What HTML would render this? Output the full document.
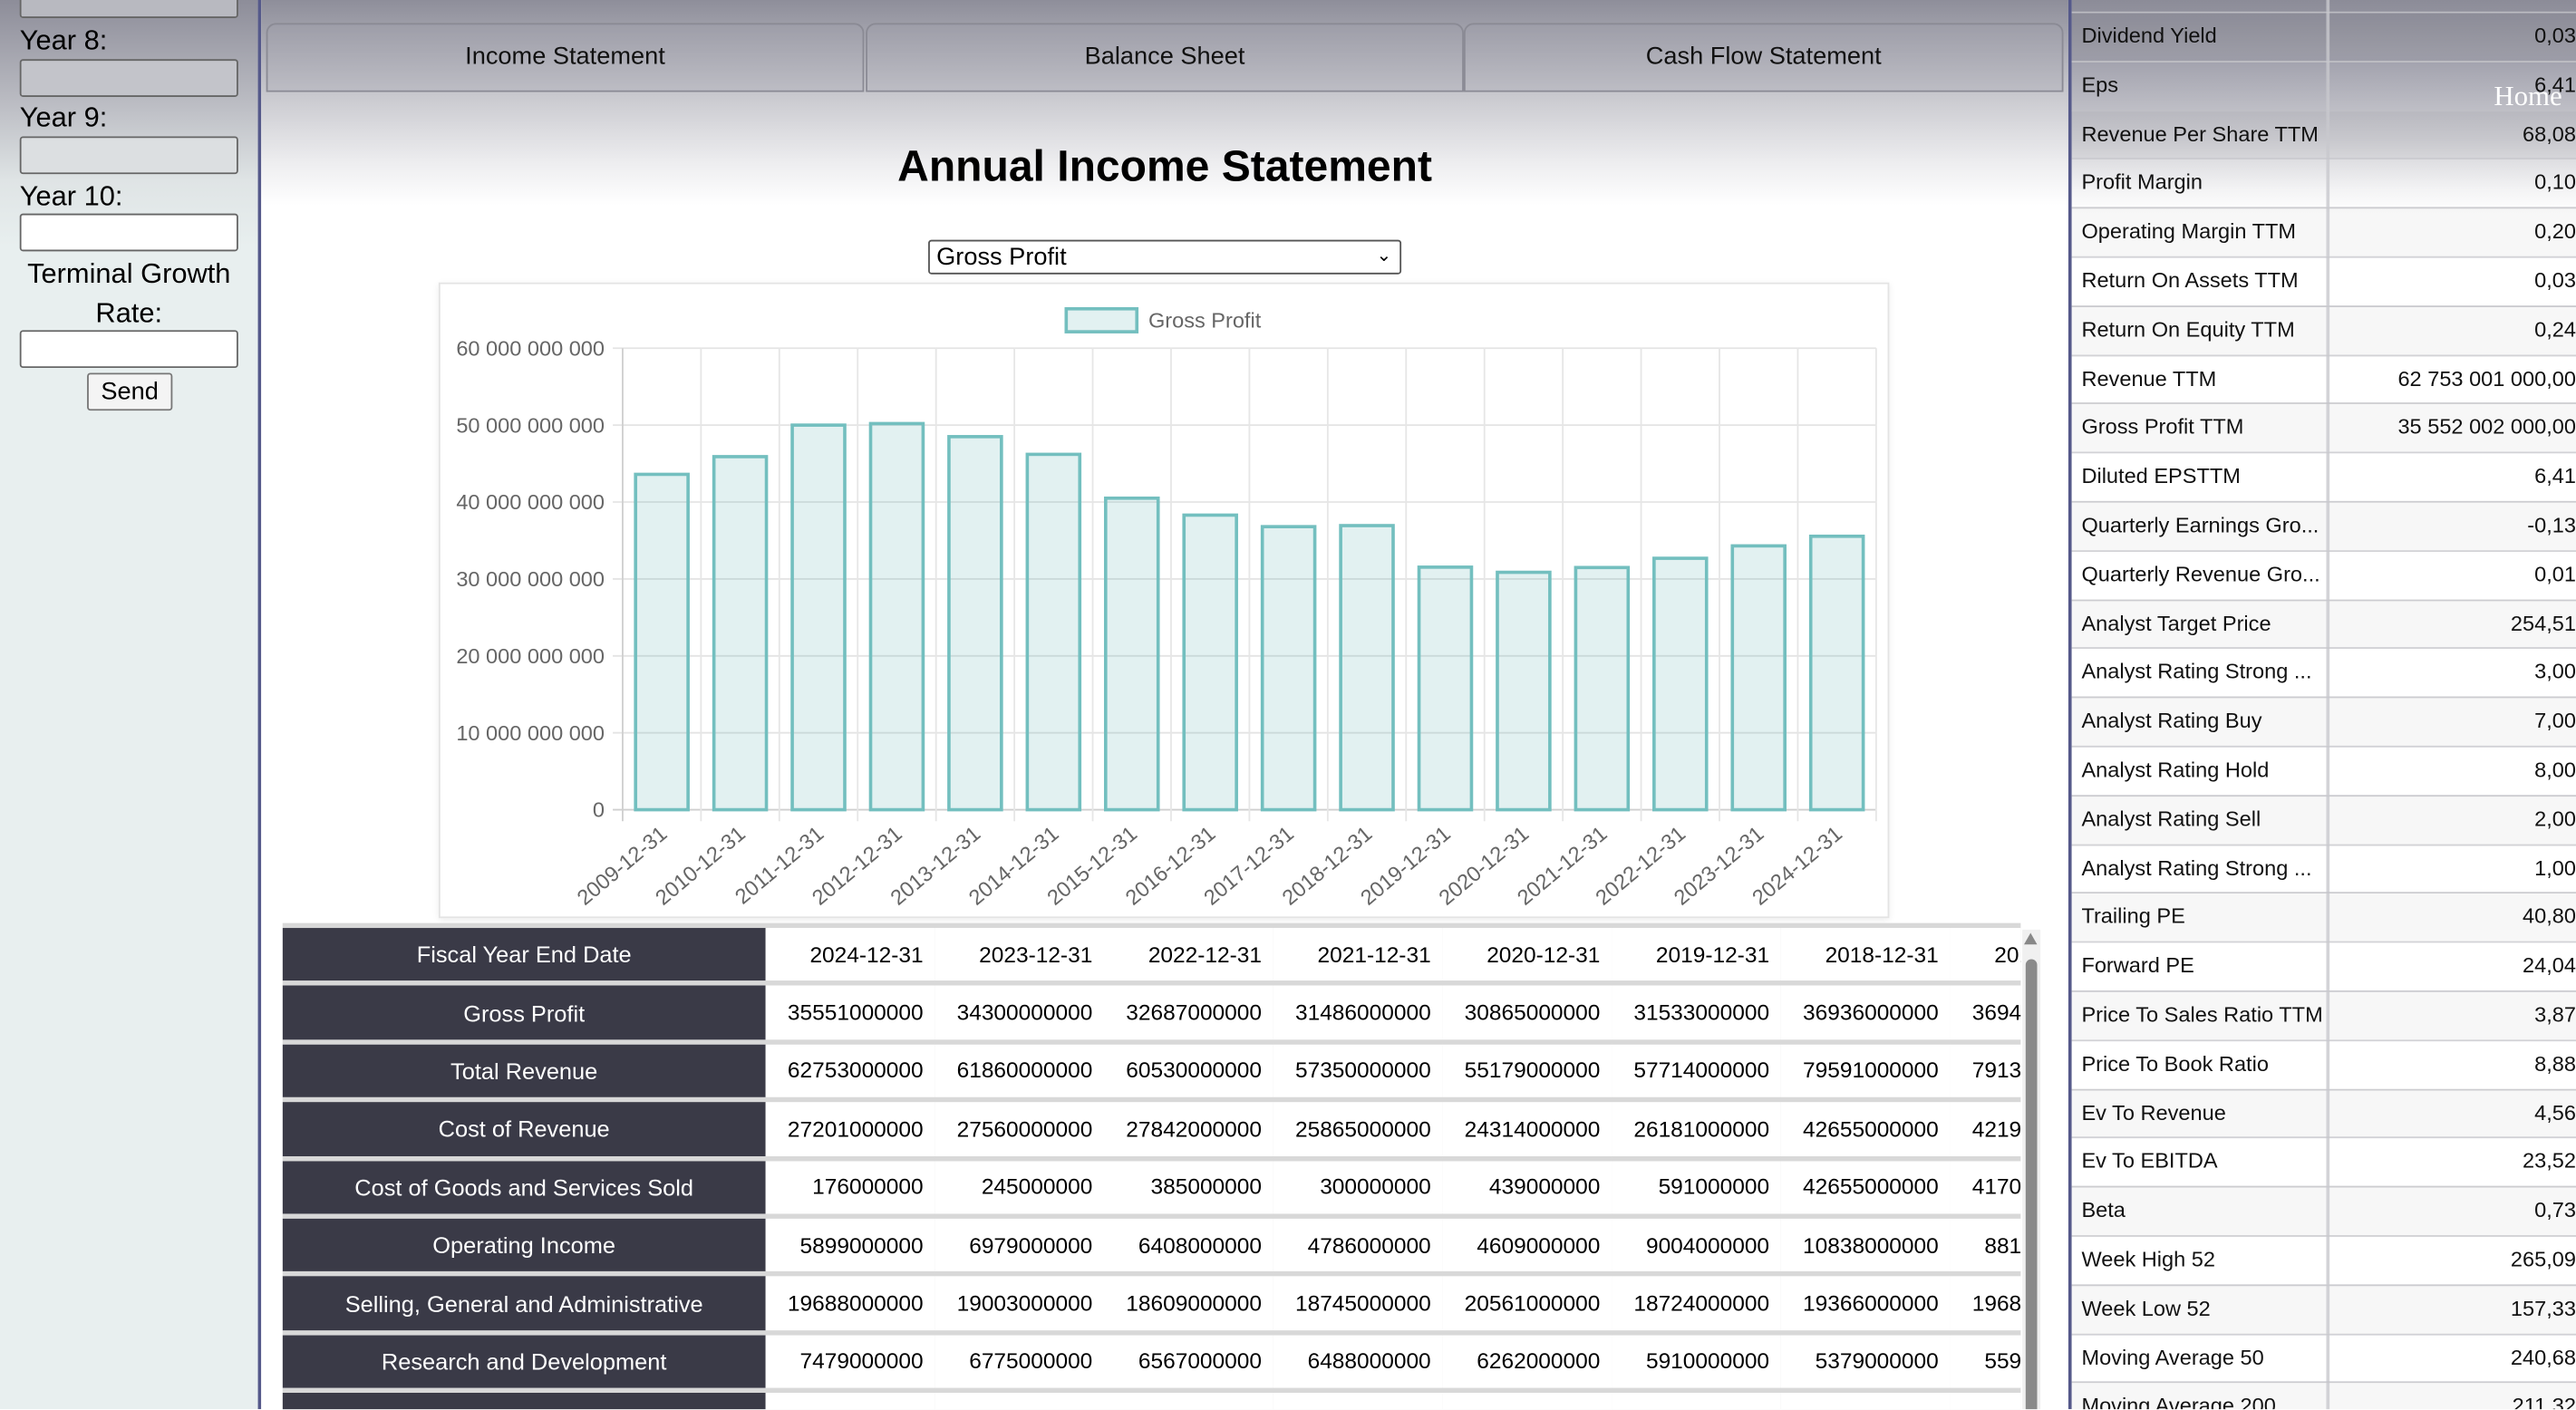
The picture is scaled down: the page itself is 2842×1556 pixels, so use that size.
<!DOCTYPE html>
<html><head><meta charset="utf-8"><style>
html,body{margin:0;padding:0;width:2842px;height:1556px;overflow:hidden;background:#fff;font-family:"Liberation Sans",sans-serif;}
#root{position:absolute;left:0;top:0;width:1568px;height:858px;transform:scale(1.8125);transform-origin:0 0;overflow:hidden;background:#fff;}
.abs{position:absolute;}
.lbl{position:absolute;left:12px;font-size:17px;color:#000;}
.inp{position:absolute;left:12px;width:131px;height:21px;border:1px solid #666;border-radius:2px;background:#fff;}
.tab{position:absolute;top:14px;height:40px;border:1px solid #8a8a94;border-radius:6px 6px 0 0;font-size:15px;line-height:40px;text-align:center;color:#111;background:rgba(160,160,170,0.25);}
.rrow{position:absolute;left:0;width:309px;height:29.8px;border-bottom:1px solid rgba(200,200,205,0.8);font-size:13px;color:#111;}
.rrow span{position:absolute;top:7px;}
table.fin{border-collapse:separate;border-spacing:0 3px;}
</style></head><body>
<div id="root">
<div id="side" class="abs" style="left:0;top:0;width:157px;height:858px;background:linear-gradient(180deg,#8d8d99 0px,#b9bac1 60px,#dfe4e5 110px,#e8efef 150px,#e8efef 858px);border-right:2px solid #55598a;">
  <div class="inp" style="top:-12px;background:#b8b9c0"></div>
  <div class="lbl" style="top:15px">Year 8:</div>
  <div class="inp" style="top:36px;background:#c3c4ca"></div>
  <div class="lbl" style="top:62px">Year 9:</div>
  <div class="inp" style="top:83px;background:#dcdfe1"></div>
  <div class="lbl" style="top:110px">Year 10:</div>
  <div class="inp" style="top:130px"></div>
  <div class="lbl" style="top:155px;left:0;width:157px;text-align:center;line-height:24px">Terminal Growth<br>Rate:</div>
  <div class="inp" style="top:201px"></div>
  <div class="abs" style="left:53px;top:227px;width:50px;height:21px;border:1px solid #777;border-radius:2px;background:#f4f4f4;font-size:15px;text-align:center;line-height:21px">Send</div>
</div>
<div id="main" class="abs" style="left:159px;top:0;width:1100px;height:858px;background:linear-gradient(180deg,#8e8e9a 0px,#c6c6cc 55px,#eeeef0 100px,#fff 125px,#fff 858px);">
  <div class="tab" style="left:3px;width:362px">Income Statement</div>
  <div class="tab" style="left:368px;width:362px">Balance Sheet</div>
  <div class="tab" style="left:732px;width:363px">Cash Flow Statement</div>
  <div class="abs" style="left:0;top:86px;width:1100px;text-align:center;font-size:26.5px;font-weight:bold;color:#000">Annual Income Statement</div>
  <div class="abs" style="left:406px;top:146px;width:282px;height:19px;border:1px solid #555;border-radius:2px;background:#fff;font-size:15px;line-height:19px;padding-left:4px;box-sizing:content-box">Gross Profit<span style="position:absolute;right:5px;top:0;font-size:11px">&#8964;</span></div>
</div>
<div class="abs" style="left:267px;top:172px;width:881px;height:385px;background:#fff;border:1px solid #e4e4e4;box-shadow:0 1px 4px rgba(0,0,0,0.08)"></div>
<svg class="abs" style="left:0;top:0" width="1568" height="858" id="chart"></svg>

<div class="abs" style="left:172px;top:562px;width:1058px;height:300px;overflow:hidden;background:#d8d8d8">
<table class="fin" id="fin" style="font-family:'Liberation Sans',sans-serif;font-size:13.5px;white-space:nowrap"></table>
</div>
<div class="abs" style="left:1231px;top:566px;width:11px;height:292px;background:#f0f0f0"><div style="position:absolute;left:2px;top:18px;width:7px;height:280px;background:#8a8a8a;border-radius:4px"></div><div style="position:absolute;left:1px;top:2px;width:0;height:0;border-left:4.5px solid transparent;border-right:4.5px solid transparent;border-bottom:7px solid #888"></div></div>

<div id="right" class="abs" style="left:1259px;top:0;width:309px;height:858px;border-left:2px solid #55598a;background:linear-gradient(180deg,#8c8c98 0px,#a5a5b0 40px,#cfcfd4 85px,#f3f3f4 115px,#ffffff 130px,#ffffff 858px);"></div>
<div class="abs" style="left:1518px;top:49px;font-family:'Liberation Serif',serif;font-size:17px;color:#fff">Home</div>
</div>
<script>
const categories=["2009-12-31","2010-12-31","2011-12-31","2012-12-31","2013-12-31","2014-12-31","2015-12-31","2016-12-31","2017-12-31","2018-12-31","2019-12-31","2020-12-31","2021-12-31","2022-12-31","2023-12-31","2024-12-31"];
const grossProfit=[43.6e9,45.9e9,50.0e9,50.2e9,48.5e9,46.2e9,40.5e9,38.3e9,36.8e9,36.936e9,31.533e9,30.865e9,31.486e9,32.687e9,34.3e9,35.551e9];
const yTicks=[0,10e9,20e9,30e9,40e9,50e9,60e9];
const yTickLabels=["0","10 000 000 000","20 000 000 000","30 000 000 000","40 000 000 000","50 000 000 000","60 000 000 000"];
const tableHeaders=["2024-12-31","2023-12-31","2022-12-31","2021-12-31","2020-12-31","2019-12-31","2018-12-31","2017-12-31"];
const tableRowNames=["Gross Profit","Total Revenue","Cost of Revenue","Cost of Goods and Services Sold","Operating Income","Selling, General and Administrative","Research and Development",""];
const tableValues=[
["35551000000","34300000000","32687000000","31486000000","30865000000","31533000000","36936000000","36943000000"],
["62753000000","61860000000","60530000000","57350000000","55179000000","57714000000","79591000000","79139000000"],
["27201000000","27560000000","27842000000","25865000000","24314000000","26181000000","42655000000","42196000000"],
["176000000","245000000","385000000","300000000","439000000","591000000","42655000000","41703000000"],
["5899000000","6979000000","6408000000","4786000000","4609000000","9004000000","10838000000","8813000000"],
["19688000000","19003000000","18609000000","18745000000","20561000000","18724000000","19366000000","19680000000"],
["7479000000","6775000000","6567000000","6488000000","6262000000","5910000000","5379000000","5590000000"],
["","","","","","","",""]];
const statNames=["Dividend Yield","Eps","Revenue Per Share TTM","Profit Margin","Operating Margin TTM","Return On Assets TTM","Return On Equity TTM","Revenue TTM","Gross Profit TTM","Diluted EPSTTM","Quarterly Earnings Gro...","Quarterly Revenue Gro...","Analyst Target Price","Analyst Rating Strong ...","Analyst Rating Buy","Analyst Rating Hold","Analyst Rating Sell","Analyst Rating Strong ...","Trailing PE","Forward PE","Price To Sales Ratio TTM","Price To Book Ratio","Ev To Revenue","Ev To EBITDA","Beta","Week High 52","Week Low 52","Moving Average 50","Moving Average 200"];
const statValues=["0,03","6,41","68,08","0,10","0,20","0,03","0,24","62 753 001 000,00","35 552 002 000,00","6,41","-0,13","0,01","254,51","3,00","7,00","8,00","2,00","1,00","40,80","24,04","3,87","8,88","4,56","23,52","0,73","265,09","157,33","240,68","211,32"];

const NS="http://www.w3.org/2000/svg";
const svg=document.getElementById('chart');
const X0=379,X1=1142,Y0=493,Y1=212,YMAX=60e9;
const band=(X1-X0)/categories.length;
const xPos=i=>X0+band*(i+0.5);
const yPos=v=>Y0-(v/YMAX)*(Y0-Y1);
function mk(tag,attrs,parent){const e=document.createElementNS(NS,tag);for(const k in attrs)e.setAttribute(k,attrs[k]);(parent||svg).appendChild(e);return e;}
yTicks.forEach((t,i)=>{
  const g=mk('line',{x1:X0-6,x2:X1,y1:yPos(t),y2:yPos(t),stroke:i===0?'#cfcfcf':'#e4e4e4','stroke-width':1});
  
  
  const tx=mk('text',{x:X0-11,y:yPos(t)+4.5,'text-anchor':'end','font-size':13,fill:'#666','font-family':'Liberation Sans, sans-serif'});
  tx.textContent=yTickLabels[i];
  
  
});
for(let i=0;i<=categories.length;i++){
  const x=X0+band*i;
  const l=mk('line',{x1:x,x2:x,y1:Y1,y2:Y0+7,stroke:i===0?'#cfcfcf':'#e6e6e6','stroke-width':1});
  
  
}
categories.forEach((c,i)=>{
  const bw=band*0.67,x=xPos(i)-bw/2,y=yPos(grossProfit[i]);
  const r=mk('rect',{x:x,y:y,width:bw,height:Y0-y,fill:'rgba(75,170,170,0.16)',stroke:'#73bfbf','stroke-width':2});
  
  
  const t=mk('text',{x:xPos(i)+4,y:Y0+16,'text-anchor':'end','font-size':13,fill:'#666','font-family':'Liberation Sans, sans-serif',transform:'rotate(-40 '+(xPos(i)+4)+' '+(Y0+16)+')'});
  t.textContent=c;
  
  
});
const lg=mk('rect',{x:649,y:188,width:43,height:14,fill:'rgba(75,170,170,0.16)',stroke:'#73bfbf','stroke-width':2});


const lt=mk('text',{x:699,y:199.5,'font-size':13,fill:'#666','font-family':'Liberation Sans, sans-serif'});
lt.textContent='Gross Profit';



const tbl=document.getElementById('fin');
function addRow(name,vals){
  const tr=document.createElement('tr');
  const th=document.createElement('td');
  th.textContent=name;
  
  
  th.style.cssText='width:294px;min-width:294px;height:32.4px;padding:0;background:#3a3a47;color:#fff;text-align:center;font-size:14px';
  tr.appendChild(th);
  vals.forEach(v=>{const td=document.createElement('td');td.textContent=v;
    
    
    td.style.cssText='width:103px;min-width:103px;padding:0 7px 0 0;box-sizing:border-box;background:#fff;text-align:right;height:32.4px;color:#000';tr.appendChild(td);});
  tbl.appendChild(tr);
}
addRow('Fiscal Year End Date',tableHeaders);
tableRowNames.forEach((n,i)=>addRow(n,tableValues[i]));

const rp=document.getElementById('right');
statNames.forEach((n,i)=>{
  const d=document.createElement('div');
  d.className='rrow';
  d.style.top=(7+29.8*i)+'px';
  d.style.background=i%2?'rgba(255,255,255,0)':'rgba(0,0,0,0.03)';
  
  
  d.innerHTML='<span style="left:6px">'+n+'</span><span style="right:2px">'+statValues[i]+'</span><div style="position:absolute;left:155px;top:0;width:2px;height:30px;background:rgba(200,200,205,0.8)"></div>';
  rp.appendChild(d);
});
const top0=document.createElement('div');
top0.className='rrow';top0.style.top='-23px';


top0.innerHTML='<div style="position:absolute;left:155px;top:0;width:2px;height:30px;background:rgba(200,200,205,0.8)"></div>';
rp.appendChild(top0);
</script>
</body></html>
